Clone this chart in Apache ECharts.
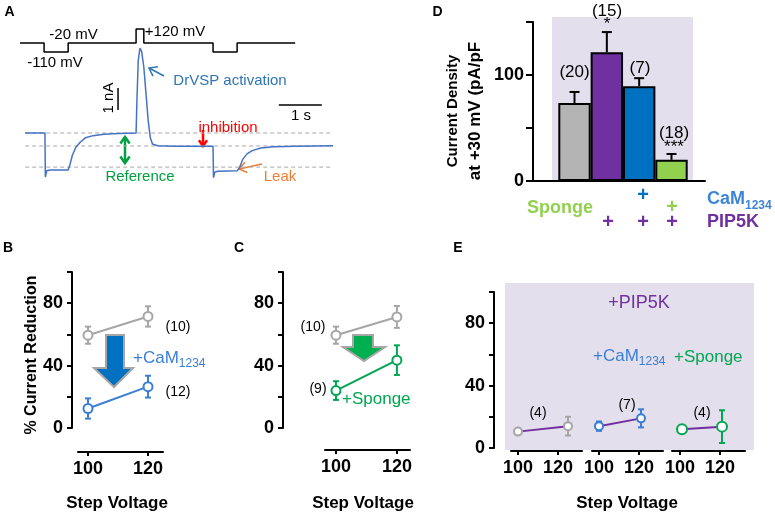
<!DOCTYPE html>
<html><head><meta charset="utf-8">
<script src="https://cdn.jsdelivr.net/npm/echarts@6/dist/echarts.min.js"></script>
<style>html,body{margin:0;padding:0;background:#fff}#c{width:775px;height:516px}</style>
</head><body><div id="c"></div>
<script>
// ---------- DATA ----------
// Panel A: voltage command (mV) and current trace (nA) vs time (s)
const cmdTime    = [0, 0.56, 0.56, 1.12, 1.12, 2.70, 2.70, 2.88, 2.88, 4.49, 4.49, 5.05, 5.05, 6.40];
const cmdVoltage = [-20, -20, -110, -110, -20, -20, 120, 120, -20, -20, -110, -110, -20, -20];
const traceTime    = [0.12, 0.58, 0.59, 0.62, 0.70, 1.12, 1.16, 1.22, 1.30, 1.40, 1.52, 1.70, 1.95, 2.30, 2.70, 2.72, 2.75, 2.79, 2.83, 2.88, 2.93, 2.98, 3.03, 3.08, 3.20, 3.60, 4.49, 4.50, 4.53, 4.60, 5.05, 5.10, 5.18, 5.28, 5.40, 5.60, 5.90, 6.40, 7.28];
const traceCurrent = [0, 0, -2.0, -1.72, -1.68, -1.68, -1.45, -1.0, -0.65, -0.42, -0.22, -0.12, -0.06, -0.02, 0, 1.5, 3.3, 3.86, 3.7, 3.0, 1.8, 0.6, -0.2, -0.5, -0.58, -0.6, -0.6, -2.05, -1.78, -1.74, -1.72, -1.6, -1.2, -0.95, -0.8, -0.68, -0.62, -0.6, -0.58];
const refLevels = [0, -0.59, -1.55];      // dashed reference lines (nA)
const scaleBarTime = 1;                    // s
const scaleBarCurrent = 1;                 // nA

// Panel D
const dCategories = ['Control', 'PIP5K', 'PIP5K + CaM1234', 'PIP5K + Sponge'];
const dMean = [73.5, 121.5, 89.5, 20];
const dSem  = [10.5, 19, 7.5, 5.5];
const dColors = ['#b4b4b4', '#7030a0', '#0070c0', '#92d050'];
const dN = ['(20)', '(15)', '(7)', '(18)'];
const dSig = ['', '*', '', '***'];

// Panel B
const stepVoltage = [100, 120];
const bCtrlMean = [59.5, 71.5], bCtrlSem = [5.5, 6.5];
const bCamMean  = [12.5, 26.5], bCamSem  = [6.5, 7];
// Panel C
const cCtrlMean = [59.5, 71.2], cCtrlSem = [5.5, 7];
const cSpgMean  = [24, 43.5],   cSpgSem  = [6, 9.5];
// Panel E
const e1Step = [100, 125], e1Mean = [10.5, 14], e1Sem = [0, 6];
const e2Step = [100, 121], e2Mean = [14, 19],   e2Sem = [3, 5.8];
const e3Step = [101, 121], e3Mean = [12, 13.7], e3Sem = [0, 10.5];
const pctTicks = [0, 40, 80];

// ---------- STYLE ----------
const FONT = "'Liberation Sans', Arial, Helvetica, sans-serif";
const BLACK = '#000';
const GREY = '#a6a6a6', BLUE = '#3a7fd5', GREEN = '#00a651', PURPLE = '#7030a0';

const chart = echarts.init(document.getElementById('c'));

function zip(a, b) { return a.map((v, i) => [v, b[i]]); }
function errData(xs, m, s) { return xs.map((x, i) => [x, m[i] - s[i], m[i] + s[i]]); }

function errSeries(xi, yi, data, color, cap, topOnly) {
  return {
    type: 'custom', xAxisIndex: xi, yAxisIndex: yi, data, z: 3, silent: true,
    encode: { x: 0, y: [1, 2] },
    renderItem: function (params, api) {
      const x = api.value(0), lo = api.value(1), hi = api.value(2);
      if (hi - lo <= 0) return null;
      const pl = api.coord([x, lo]), ph = api.coord([x, hi]);
      const st = { stroke: color, lineWidth: 2 };
      const ch = [
        { type: 'line', shape: { x1: pl[0], y1: pl[1], x2: ph[0], y2: ph[1] }, style: st },
        { type: 'line', shape: { x1: ph[0] - cap, y1: ph[1], x2: ph[0] + cap, y2: ph[1] }, style: st }
      ];
      if (!topOnly) ch.push({ type: 'line', shape: { x1: pl[0] - cap, y1: pl[1], x2: pl[0] + cap, y2: pl[1] }, style: st });
      return { type: 'group', children: ch };
    }
  };
}

function lineSeries(xi, yi, xs, ys, lineColor, markColor, size) {
  return {
    type: 'line', xAxisIndex: xi, yAxisIndex: yi, data: zip(xs, ys), z: 5,
    symbol: 'circle', symbolSize: size || 9, showSymbol: true,
    lineStyle: { color: lineColor, width: 2 },
    itemStyle: { color: '#fff', borderColor: markColor, borderWidth: 2 },
    emphasis: { disabled: true }
  };
}

const axisLineStyle = { color: BLACK, width: 2 };
const labelStyle = { color: BLACK, fontSize: 18, fontWeight: 'bold', fontFamily: FONT };

function pctYAxis(gi, offset, show) {
  return {
    gridIndex: gi, type: 'value', min: 0, max: 100, interval: 20, offset: offset, show: show,
    axisLine: { show: true, onZero: false, lineStyle: axisLineStyle },
    axisTick: { show: true, length: 5, lineStyle: axisLineStyle },
    axisLabel: { ...labelStyle, margin: 9, formatter: v => pctTicks.includes(v) ? String(v) : '' },
    splitLine: { show: false }
  };
}
function stepXAxis(gi, min, max, offset) {
  return {
    gridIndex: gi, type: 'value', min, max, offset, position: 'bottom',
    axisLine: { show: true, onZero: false, lineStyle: axisLineStyle },
    axisTick: { show: true, length: 4, customValues: stepVoltage, lineStyle: axisLineStyle },
    axisLabel: { ...labelStyle, margin: 8, customValues: stepVoltage },
    splitLine: { show: false }
  };
}

// ---------- GRAPHIC ANNOTATIONS ----------
const G = [];
function T(x, y, text, o) {
  o = o || {};
  const style = {
    text, fill: o.color || BLACK,
    font: (o.bold ? 'bold ' : '') + (o.size || 15) + 'px ' + FONT,
    textAlign: o.align || 'center', align: o.align || 'center',
    textVerticalAlign: 'middle', verticalAlign: 'middle'
  };
  if (o.rich) style.rich = o.rich;
  G.push({ type: 'text', x, y, rotation: o.rot || 0, z: 100, style });
}
function sub(main, s, color, size, subSize, bold) {
  const fw = bold ? 'bold' : 'normal';
  return {
    text: '{m|' + main + '}{s|' + s + '}',
    rich: {
      m: { fontSize: size, fontWeight: fw, fill: color, color: color, fontFamily: FONT, lineHeight: size + 3, verticalAlign: 'bottom' },
      s: { fontSize: subSize, fontWeight: fw, fill: color, color: color, fontFamily: FONT, lineHeight: subSize, verticalAlign: 'bottom', padding: [0, 0, -3, 0] }
    }
  };
}
function arrow(x1, y1, x2, y2, color, w, head, both) {
  const a = 0.62;
  const ch = [{ type: 'line', shape: { x1, y1, x2, y2 }, style: { stroke: color, lineWidth: w } }];
  function hd(tx, ty, ang) {
    ch.push({ type: 'polyline', shape: { points: [
      [tx - head * Math.cos(ang - a), ty - head * Math.sin(ang - a)], [tx, ty],
      [tx - head * Math.cos(ang + a), ty - head * Math.sin(ang + a)]] },
      style: { stroke: color, lineWidth: w, fill: null } });
  }
  hd(x2, y2, Math.atan2(y2 - y1, x2 - x1));
  if (both) hd(x1, y1, Math.atan2(y1 - y2, x1 - x2));
  G.push({ type: 'group', z: 100, children: ch });
}
function blockArrow(pts, fill) {
  G.push({ type: 'polygon', z: 100, shape: { points: pts }, style: { fill, stroke: '#a6a6a6', lineWidth: 2 } });
}

// lavender backgrounds
G.push({ type: 'rect', z: -10, shape: { x: 552, y: 17, width: 141, height: 164 }, style: { fill: '#e4dfec' } });
G.push({ type: 'rect', z: -10, shape: { x: 505, y: 283, width: 249, height: 167 }, style: { fill: '#e4dfec' } });

// panel letters
T(9.5, 12, 'A', { bold: true, size: 14 });
T(437.5, 12, 'D', { bold: true, size: 14 });
T(8, 248, 'B', { bold: true, size: 14 });
T(239, 248, 'C', { bold: true, size: 14 });
T(458, 248, 'E', { bold: true, size: 14 });

// Panel A annotations
T(73.5, 35, '-20 mV');
T(175, 32, '+120 mV');
T(55, 63, '-110 mV');
T(230, 81, 'DrVSP activation', { color: '#2e75b6' });
arrow(164, 76, 149, 68, '#2e75b6', 1.5, 9, false);
T(109, 98, '1 nA', { rot: Math.PI / 2 });
T(301, 116, '1 s');
T(228, 128, 'inhibition', { color: '#ff0000' });
arrow(203, 130, 203, 146, '#ff0000', 2.5, 7, false);
arrow(125, 137, 125, 163, '#00a040', 2.5, 8, true);
T(140, 177, 'Reference', { color: '#00a040' });
arrow(262, 164, 239, 169, '#ed7d31', 1.5, 9, false);
T(280, 177, 'Leak', { color: '#ed7d31' });

// Panel D annotations
T(453, 111, 'Current Density', { bold: true, size: 15, rot: Math.PI / 2 });
T(475, 111, 'at +30 mV (pA/pF', { bold: true, size: 17, rot: Math.PI / 2 });
const dLabelY = [72, 11, 68, 133];
const dSigY = [0, 24, 0, 147];
const dLabelX = [574.5, 607, 640, 674];
dN.forEach((n, i) => T(dLabelX[i], dLabelY[i], n, { size: 17 }));
dSig.forEach((s, i) => { if (s) T(dLabelX[i], dSigY[i], s, { size: 17 }); });
T(560, 208, 'Sponge', { bold: true, size: 18, color: '#92d050' });
T(643, 195, '+', { bold: true, size: 20, color: '#0070c0' });
T(672, 207, '+', { bold: true, size: 20, color: '#92d050' });
[608, 643, 672].forEach(x => T(x, 222, '+', { bold: true, size: 20, color: PURPLE }));
(function () { const s = sub('CaM', '1234', '#3d85d8', 18, 12, true); T(707, 198, s.text, { align: 'left', rich: s.rich }); })();
T(707, 222, 'PIP5K', { bold: true, size: 18, color: PURPLE, align: 'left' });

// Panel B annotations
T(32, 355, '% Current Reduction', { bold: true, size: 16, rot: Math.PI / 2 });
T(178, 327, '(10)', { size: 14 });
T(178, 392, '(12)', { size: 14 });
(function () { const s = sub('+CaM', '1234', BLUE, 17, 12, false); T(133, 357, s.text, { align: 'left', rich: s.rich }); })();
blockArrow([[106, 335], [124, 335], [124, 368], [133, 368], [114, 387], [94, 368], [106, 368]], '#0070c0');
T(117, 503, 'Step Voltage', { bold: true, size: 17 });

// Panel C annotations
T(313, 327, '(10)', { size: 14 });
T(318, 389, '(9)', { size: 14 });
T(342, 399, '+Sponge', { size: 17, color: GREEN, align: 'left' });
blockArrow([[353, 335], [373, 335], [373, 347], [385, 347], [364, 361], [343, 347], [353, 347]], '#00b050');
T(363, 503, 'Step Voltage', { bold: true, size: 17 });

// Panel E annotations
T(538, 413, '(4)', { size: 14 });
T(627, 405, '(7)', { size: 14 });
T(702, 413, '(4)', { size: 14 });
T(639, 303, '+PIP5K', { size: 18, color: PURPLE });
(function () { const s = sub('+CaM', '1234', BLUE, 17, 12, false); T(593, 355, s.text, { align: 'left', rich: s.rich }); })();
T(674, 357, '+Sponge', { size: 17, color: GREEN, align: 'left' });
T(627, 503, 'Step Voltage', { bold: true, size: 17 });

// ---------- OPTION ----------
const gridBase = { containLabel: false, outerBoundsMode: 'none' };
const option = {
  animation: false,
  backgroundColor: '#fff',
  grid: [
    { ...gridBase, left: 20, top: 20, width: 313, height: 157 },   // A
    { ...gridBase, left: 533, top: 22, width: 172, height: 159 },  // D
    { ...gridBase, left: 78, top: 272, width: 85, height: 156 },   // B
    { ...gridBase, left: 325, top: 272, width: 85, height: 156 },  // C
    { ...gridBase, left: 511, top: 292, width: 71, height: 156 },  // E1
    { ...gridBase, left: 592, top: 292, width: 71, height: 156 },  // E2
    { ...gridBase, left: 672, top: 292, width: 73, height: 156 }   // E3
  ],
  xAxis: [
    { gridIndex: 0, type: 'value', min: 0, max: 7.28, show: false },
    { gridIndex: 1, type: 'value', min: -0.284, max: 5.036,
      axisLine: { show: true, onZero: false, lineStyle: axisLineStyle }, axisTick: { show: false }, axisLabel: { show: false }, splitLine: { show: false } },
    stepXAxis(2, 96.67, 125, 24),
    stepXAxis(3, 96.4, 124.3, 22),
    stepXAxis(4, 96.5, 132, 3),
    stepXAxis(5, 96.5, 132, 3),
    stepXAxis(6, 96, 132.5, 3)
  ],
  yAxis: [
    { gridIndex: 0, type: 'value', min: -2, max: 5.136, show: false },
    { gridIndex: 0, type: 'value', min: -1360, max: 210, show: false },
    { gridIndex: 1, type: 'value', min: 0, max: 150, interval: 50,
      axisLine: { show: true, onZero: false, lineStyle: axisLineStyle },
      axisTick: { show: true, length: 7, lineStyle: axisLineStyle },
      axisLabel: { ...labelStyle, margin: 9, formatter: v => (v === 0 || v === 100) ? String(v) : '' },
      splitLine: { show: false } },
    pctYAxis(2, 6, true),
    pctYAxis(3, 42, true),
    pctYAxis(4, 17, true),
    pctYAxis(5, 0, false),
    pctYAxis(6, 0, false)
  ],
  graphic: { elements: G },
  series: [
    // Panel A
    { type: 'line', xAxisIndex: 0, yAxisIndex: 1, data: zip(cmdTime, cmdVoltage), showSymbol: false, symbol: 'none',
      lineStyle: { color: BLACK, width: 1.5 }, z: 4 },
    ...refLevels.map(l => ({ type: 'line', xAxisIndex: 0, yAxisIndex: 0, data: [[0.12, l], [7.28, l]], symbol: 'none',
      lineStyle: { color: '#a8a8a8', width: 1, type: [4, 3] }, z: 3 })),
    { type: 'line', xAxisIndex: 0, yAxisIndex: 0, data: zip(traceTime, traceCurrent), symbol: 'none',
      lineStyle: { color: '#4472c4', width: 1.5 }, z: 4 },
    { type: 'line', xAxisIndex: 0, yAxisIndex: 0, data: [[6.02, 1.27], [6.02 + scaleBarTime, 1.27]], symbol: 'none',
      lineStyle: { color: BLACK, width: 1.5 } },
    { type: 'line', xAxisIndex: 0, yAxisIndex: 0, data: [[2.28, 1.05], [2.28, 1.05 + scaleBarCurrent]], symbol: 'none',
      lineStyle: { color: BLACK, width: 1.5 } },
    // Panel D
    { type: 'bar', xAxisIndex: 1, yAxisIndex: 2, barWidth: 32.4, z: 2,
      data: dMean.map((m, i) => ({ name: dCategories[i], value: [i + 1, m], itemStyle: { color: dColors[i], borderColor: BLACK, borderWidth: 2 } })) },
    errSeries(1, 2, dMean.map((m, i) => [i + 1, m, m + dSem[i]]), BLACK, 5, true),
    // Panel B
    errSeries(2, 3, errData(stepVoltage, bCtrlMean, bCtrlSem), GREY, 3),
    errSeries(2, 3, errData(stepVoltage, bCamMean, bCamSem), BLUE, 3),
    lineSeries(2, 3, stepVoltage, bCtrlMean, GREY, GREY),
    lineSeries(2, 3, stepVoltage, bCamMean, BLUE, BLUE),
    // Panel C
    errSeries(3, 4, errData(stepVoltage, cCtrlMean, cCtrlSem), GREY, 3),
    errSeries(3, 4, errData(stepVoltage, cSpgMean, cSpgSem), GREEN, 3),
    lineSeries(3, 4, stepVoltage, cCtrlMean, GREY, GREY),
    lineSeries(3, 4, stepVoltage, cSpgMean, GREEN, GREEN),
    // Panel E
    errSeries(4, 5, errData(e1Step, e1Mean, e1Sem), GREY, 3),
    lineSeries(4, 5, e1Step, e1Mean, PURPLE, GREY, 8),
    errSeries(5, 6, errData(e2Step, e2Mean, e2Sem), BLUE, 3),
    lineSeries(5, 6, e2Step, e2Mean, PURPLE, BLUE, 8),
    errSeries(6, 7, errData(e3Step, e3Mean, e3Sem), GREEN, 3),
    lineSeries(6, 7, e3Step, e3Mean, PURPLE, GREEN, 10)
  ]
};
chart.setOption(option);
</script></body></html>
